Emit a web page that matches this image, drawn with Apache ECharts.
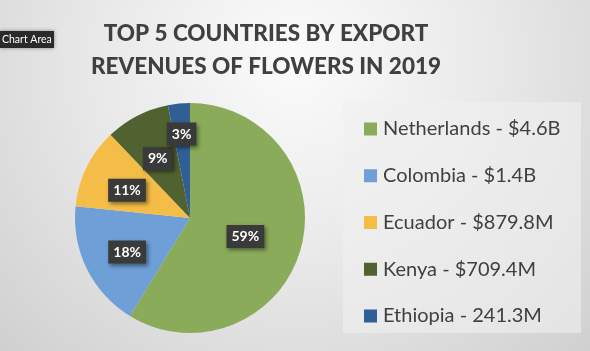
<!DOCTYPE html>
<html>
<head>
<meta charset="utf-8">
<script src="https://cdn.jsdelivr.net/npm/echarts@6/dist/echarts.min.js"></script>
<style>
  html, body { margin: 0; padding: 0; }
  #chart { width: 590px; height: 351px; }
</style>
</head>
<body>
<div id="chart"></div>
<script>
// data
const countries = ["Netherlands", "Colombia", "Ecuador", "Kenya", "Ethiopia"];
const revenues = [4600, 1400, 879.8, 709.4, 241.3]; // millions of USD
const legendNames = [
  "Netherlands - $4.6B",
  "Colombia - $1.4B",
  "Ecuador - $879.8M",
  "Kenya - $709.4M",
  "Ethiopia - 241.3M",
];
const colors = ["#8aab59", "#6e9fd6", "#f4bd47", "#4f6230", "#2f5f95"];

const center = [190, 218];
const radius = 115;
const total = revenues.reduce((a, b) => a + b, 0);

// mid angle of every slice (clockwise from 12 o'clock)
const midAngles = [];
let acc = 0;
revenues.forEach((v) => {
  midAngles.push(((acc + v / 2) / total) * Math.PI * 2);
  acc += v;
});

const chart = echarts.init(document.getElementById("chart"));

chart.setOption({
  backgroundColor: {
    type: "radial",
    x: 0.5,
    y: 0.17,
    r: 1.25,
    colorStops: [
      { offset: 0, color: "#fbfbfb" },
      { offset: 0.45, color: "#e9e9e9" },
      { offset: 1, color: "#cdcdcd" },
    ],
  },
  textStyle: { fontFamily: "Lato" },
  title: {
    text: "TOP 5 COUNTRIES BY EXPORT\nREVENUES OF FLOWERS IN 2019",
    left: 261,
    top: 12,
    textAlign: "center",
    textStyle: {
      fontFamily: "Lato",
      fontSize: 22.5,
      fontWeight: 900,
      color: "#404040",
      lineHeight: 33,
    },
  },
  graphic: [
    {
      type: "rect",
      shape: { x: 343, y: 102, width: 238, height: 231 },
      style: { fill: "rgba(240,240,240,0.6)" },
      z: -1,
    },
    {
      type: "rect",
      shape: { x: 0, y: 31, width: 54, height: 17 },
      style: { fill: "#2a2a2a", shadowBlur: 4, shadowColor: "rgba(0,0,0,0.4)" },
    },
    {
      type: "text",
      x: 2,
      y: 39.5,
      style: {
        text: "Chart Area",
        fill: "#fff",
        fontFamily: "Lato",
        fontSize: 10.5,
        verticalAlign: "middle",
      },
    },
  ],
  legend: {
    orient: "vertical",
    left: 359,
    top: 112,
    itemWidth: 13,
    itemHeight: 13,
    itemGap: 22.75,
    icon: "rect",
    data: countries,
    formatter: (name) => legendNames[countries.indexOf(name)],
    textStyle: {
      fontFamily: "Lato",
      fontSize: 20,
      lineHeight: 24,
      color: "#404040",
      padding: [0, 0, 0, 1],
    },
  },
  series: [
    {
      type: "pie",
      center: center,
      radius: [0, radius],
      startAngle: 90,
      clockwise: true,
      percentPrecision: 0,
      color: colors,
      data: countries.map((c, i) => ({ name: c, value: revenues[i] })),
      label: {
        position: "inside",
        formatter: "{d}%",
        color: "#fff",
        fontFamily: "Lato",
        fontWeight: "bold",
        fontSize: 14,
        backgroundColor: "#3a3a3a",
        padding: [5, 5, 4, 5],
        shadowBlur: 4,
        shadowColor: "rgba(0,0,0,0.45)",
        shadowOffsetX: 2,
        shadowOffsetY: 2,
      },
      labelLayout: (params) => {
        const i = params.dataIndex;
        const share = revenues[i] / total;
        const half = share * Math.PI;
        const w = params.labelRect.width;
        // big slice at half radius, smaller ones a bit further out, tiny ones pushed to fit
        let d = share > 0.5 ? 0.5 * radius : 0.61 * radius;
        const fit = w / (2 * Math.sin(half));
        if (fit > d) d = Math.min(fit, 0.76 * radius);
        const a = midAngles[i];
        return {
          x: center[0] + d * Math.sin(a),
          y: center[1] - d * Math.cos(a) + 3,
          align: "center",
          verticalAlign: "middle",
        };
      },
      labelLine: { show: false },
      emphasis: { disabled: true },
      animation: false,
    },
  ],
});
</script>
</body>
</html>
